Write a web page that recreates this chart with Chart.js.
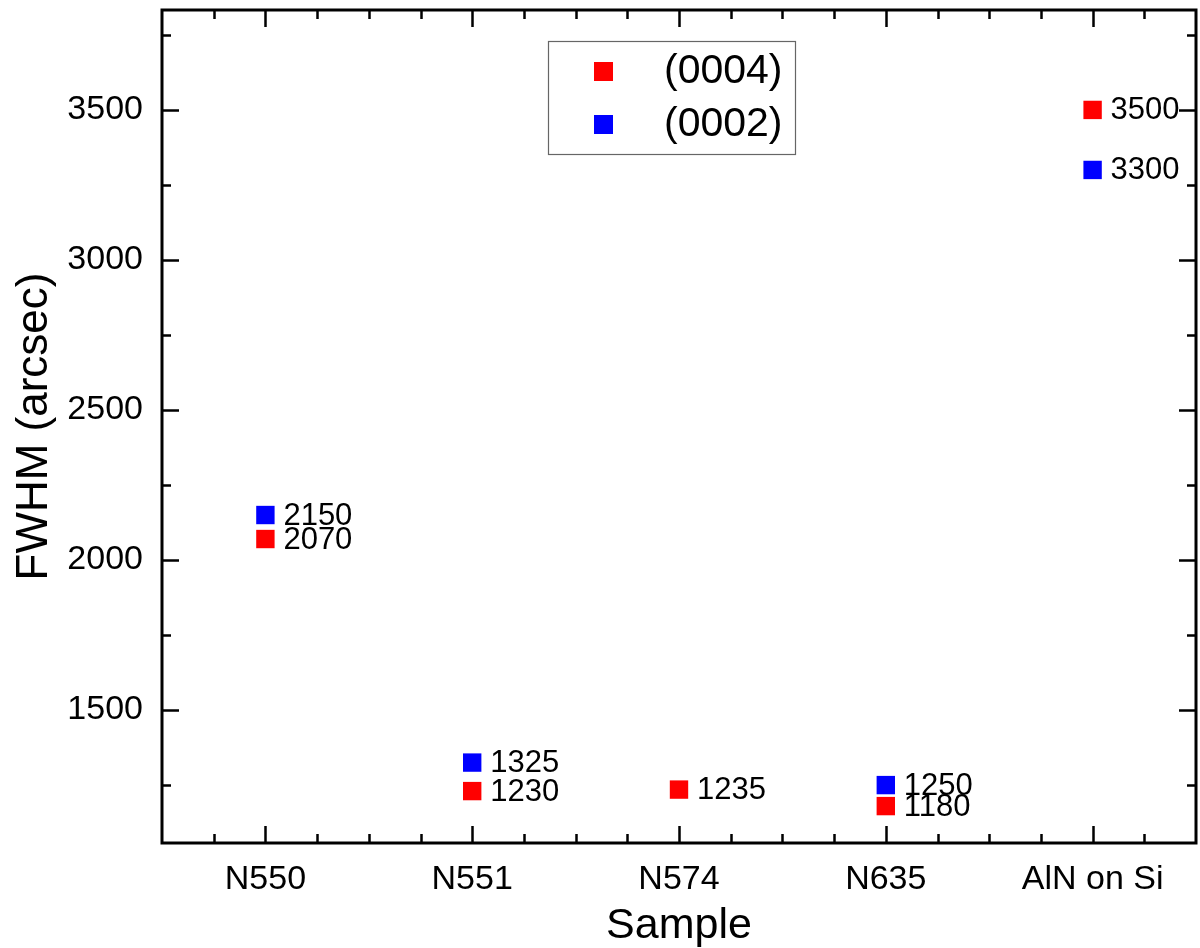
<!DOCTYPE html>
<html>
<head>
<meta charset="utf-8">
<script src="https://cdn.jsdelivr.net/npm/chart.js@4.4.1/dist/chart.umd.min.js"></script>
<style>
  html, body { margin: 0; padding: 0; background: #fff; }
  #wrap { width: 1200px; height: 948px; }
</style>
</head>
<body>
<div id="wrap"><canvas id="fwhmChart" width="1200" height="948"></canvas></div>
<script>
// ==== Data ====
const samples = ["N550", "N551", "N574", "N635", "AlN on Si"];
const fwhm0004 = [2070, 1230, 1235, 1180, 3500];
const fwhm0002 = [2150, 1325, null, 1250, 3300];
const yTicks = [1500, 2000, 2500, 3000, 3500];
const seriesNames = ["(0004)", "(0002)"];

const FONT = "'Liberation Sans', Arial, sans-serif";

// ==== Frame + inward ticks (drawn from the scales) ====
const frameTicks = {
  id: "frameTicks",
  afterDatasetsDraw(chart) {
    const { ctx, chartArea: a, scales: { x, y } } = chart;
    ctx.save();
    ctx.strokeStyle = "#000";
    ctx.lineWidth = 2.5;
    ctx.lineCap = "butt";

    // y: major every 500, minor every 250
    for (let v = 1250; v <= 3750; v += 250) {
      const py = Math.round(y.getPixelForValue(v)) + 0.5;
      if (py < a.top || py > a.bottom) continue;
      const len = v % 500 === 0 ? 17 : 9;
      ctx.beginPath();
      ctx.moveTo(a.left, py); ctx.lineTo(a.left + len, py);
      ctx.moveTo(a.right, py); ctx.lineTo(a.right - len, py);
      ctx.stroke();
    }
    // x: major at categories, 3 minor between
    for (let k = -2; k <= (samples.length - 1) * 4 + 2; k++) {
      const px = Math.round(x.getPixelForValue(k / 4)) + 0.5;
      if (px <= a.left + 2 || px >= a.right - 2) continue;
      const len = k % 4 === 0 ? 17 : 9;
      ctx.beginPath();
      ctx.moveTo(px, a.bottom); ctx.lineTo(px, a.bottom - len);
      ctx.moveTo(px, a.top); ctx.lineTo(px, a.top + len);
      ctx.stroke();
    }
    ctx.lineWidth = 3;
    ctx.strokeRect(a.left, a.top, a.right - a.left, a.bottom - a.top);
    ctx.restore();
  }
};

// ==== Value labels next to points ====
const valueLabels = {
  id: "valueLabels",
  afterDatasetsDraw(chart) {
    const { ctx } = chart;
    ctx.save();
    ctx.font = "31px " + FONT;
    ctx.fillStyle = "#000";
    ctx.textAlign = "left";
    ctx.textBaseline = "middle";
    chart.data.datasets.forEach((ds, i) => {
      chart.getDatasetMeta(i).data.forEach((pt, j) => {
        const v = ds.data[j];
        if (v == null || isNaN(pt.y)) return;
        ctx.fillText(String(v), pt.x + 18, pt.y + 1);
      });
    });
    ctx.restore();
  }
};

// ==== Legend box ====
const boxLegend = {
  id: "boxLegend",
  afterDraw(chart) {
    const { ctx } = chart;
    const bx = 548, by = 41, bw = 247, bh = 113;
    ctx.save();
    ctx.fillStyle = "#fff";
    ctx.fillRect(bx, by, bw, bh);
    ctx.strokeStyle = "#666";
    ctx.lineWidth = 1.2;
    ctx.strokeRect(bx + 0.5, by + 0.5, bw, bh);
    ctx.font = "41px " + FONT;
    ctx.textBaseline = "middle";
    ctx.textAlign = "left";
    chart.data.datasets.forEach((ds, i) => {
      const cy = 71 + i * 53;
      ctx.fillStyle = ds.backgroundColor;
      ctx.fillRect(594, cy - 9, 19, 19);
      ctx.fillStyle = "#000";
      ctx.fillText(ds.label, 664, cy + 1);
    });
    ctx.restore();
  }
};

function noPad(scale) {
  scale.paddingTop = 0;
  scale.paddingBottom = 0;
  scale.paddingLeft = 0;
  scale.paddingRight = 0;
}

const ctx = document.getElementById("fwhmChart").getContext("2d");
new Chart(ctx, {
  type: "line",
  data: {
    labels: samples,
    datasets: [
      {
        label: seriesNames[0],
        data: fwhm0004,
        showLine: false,
        pointStyle: "rect",
        pointRadius: 13,
        pointBorderWidth: 0,
        backgroundColor: "#ff0000",
        borderColor: "#ff0000"
      },
      {
        label: seriesNames[1],
        data: fwhm0002,
        showLine: false,
        pointStyle: "rect",
        pointRadius: 13,
        pointBorderWidth: 0,
        backgroundColor: "#0000ff",
        borderColor: "#0000ff"
      }
    ]
  },
  options: {
    responsive: false,
    animation: false,
    events: [],
    layout: { autoPadding: false, padding: { top: 10, right: 4, left: 0, bottom: 0 } },
    plugins: { legend: { display: false }, tooltip: { enabled: false } },
    scales: {
      x: {
        type: "category",
        offset: true,
        grid: { display: false, drawTicks: false },
        border: { display: false },
        ticks: { color: "#000", font: { family: FONT, size: 34 }, padding: 16, maxRotation: 0, autoSkip: false },
        title: { display: true, text: "Sample", color: "#000", font: { family: FONT, size: 43, lineHeight: 1 }, padding: { top: 0, bottom: 0 } },
        afterFit(scale) { scale.height = 105; noPad(scale); }
      },
      y: {
        min: 1057,
        max: 3833,
        grid: { display: false, drawTicks: false },
        border: { display: false },
        ticks: { color: "#000", font: { family: FONT, size: 34 }, padding: 19, callback: v => String(v) },
        afterBuildTicks(scale) { scale.ticks = yTicks.map(v => ({ value: v })); },
        title: { display: true, text: "FWHM (arcsec)", color: "#000", font: { family: FONT, size: 44, lineHeight: 1.2 }, padding: { top: 8, bottom: 0 } },
        afterFit(scale) { scale.width = 162; noPad(scale); }
      }
    }
  },
  plugins: [frameTicks, valueLabels, boxLegend]
});
</script>
</body>
</html>
